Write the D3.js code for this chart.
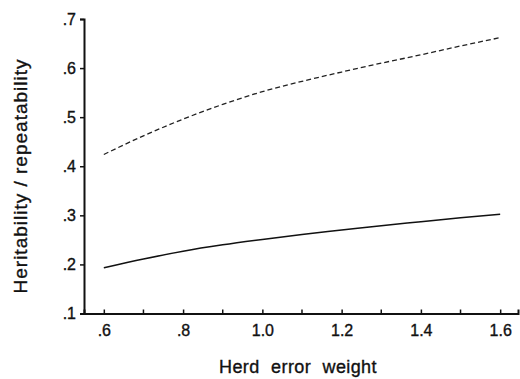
<!DOCTYPE html>
<html>
<head>
<meta charset="utf-8">
<script src="https://cdn.jsdelivr.net/npm/d3@7"></script>
<style>
  body { margin: 0; background: #fff; }
  svg { display: block; font-family: "Liberation Sans", Arial, sans-serif; }
  .tick text { font-size: 16px; fill: #111; stroke: #111; stroke-width: 0.35px; }
  .title { fill: #111; stroke: #111; stroke-width: 0.35px; }
</style>
</head>
<body>
<div id="chart"></div>
<script>
// herd error weight values
const weights = [0.6, 0.7, 0.8, 0.9, 1.0, 1.1, 1.2, 1.3, 1.4, 1.5, 1.6];
// repeatability (dashed) and heritability (solid)
const repeatability = [0.424, 0.462, 0.496, 0.526, 0.552, 0.573, 0.592, 0.610, 0.627, 0.645, 0.662];
const heritability = [0.193, 0.211, 0.227, 0.240, 0.251, 0.261, 0.270, 0.279, 0.287, 0.295, 0.302];
const xTicks = [0.6, 0.8, 1.0, 1.2, 1.4, 1.6];
const xMinor = [0.7, 0.9, 1.1, 1.3, 1.5];
const yTicks = [0.1, 0.2, 0.3, 0.4, 0.5, 0.6, 0.7];

const width = 520, height = 379;
const margin = { top: 18, right: 2, bottom: 65, left: 84 };

const svg = d3.select('#chart').append('svg')
  .attr('width', width)
  .attr('height', height);

const x = d3.scaleLinear().domain([0.55, 1.645]).range([margin.left, width - margin.right]);
const y = d3.scaleLinear().domain([0.1, 0.7]).range([height - margin.bottom - 0.5, margin.top + 1]);

// x axis, ticks point up into the plot
const xAxis = svg.append('g')
  .attr('transform', `translate(0, ${y(0.1)})`)
  .call(d3.axisBottom(x).tickValues(xTicks).tickSize(-4).tickPadding(11)
    .tickFormat(d => d < 1 ? d3.format('.1f')(d).replace(/^0/, '') : d3.format('.1f')(d)));
xAxis.select('.domain').attr('stroke', '#111').attr('stroke-width', 2);
xAxis.selectAll('.tick line').attr('stroke', '#111').attr('stroke-width', 1.5);

svg.append('g')
  .attr('transform', `translate(0, ${y(0.1)})`)
  .selectAll('line')
  .data(xMinor)
  .join('line')
  .attr('x1', d => x(d)).attr('x2', d => x(d))
  .attr('y1', 0).attr('y2', -4)
  .attr('stroke', '#111').attr('stroke-width', 1.5);

const yAxis = svg.append('g')
  .attr('transform', `translate(${margin.left}, 0)`)
  .call(d3.axisLeft(y).tickValues(yTicks).tickSize(4).tickPadding(4)
    .tickFormat(d => d3.format('.1f')(d).replace(/^0/, '')));
yAxis.select('.domain').attr('stroke', '#111').attr('stroke-width', 2);
yAxis.selectAll('.tick line').attr('stroke', '#111').attr('stroke-width', 1.5);

const line = d3.line().curve(d3.curveMonotoneX);

svg.append('path')
  .attr('d', line(weights.map((w, i) => [x(w), y(repeatability[i])])))
  .attr('fill', 'none')
  .attr('stroke', '#222')
  .attr('stroke-width', 1.3)
  .attr('stroke-dasharray', '5,3');

svg.append('path')
  .attr('d', line(weights.map((w, i) => [x(w), y(heritability[i])])))
  .attr('fill', 'none')
  .attr('stroke', '#111')
  .attr('stroke-width', 1.5);

// axis titles
svg.append('text')
  .attr('class', 'title')
  .attr('x', 298)
  .attr('y', 373)
  .attr('text-anchor', 'middle')
  .style('font-size', '18px')
  .style('letter-spacing', '0.4px')
  .style('word-spacing', '6px')
  .text('Herd error weight');

svg.append('text')
  .attr('class', 'title')
  .attr('transform', 'translate(27, 176) rotate(-90)')
  .attr('text-anchor', 'middle')
  .style('font-size', '19px')
  .style('letter-spacing', '1px')
  .text('Heritability / repeatability');
</script>
</body>
</html>
